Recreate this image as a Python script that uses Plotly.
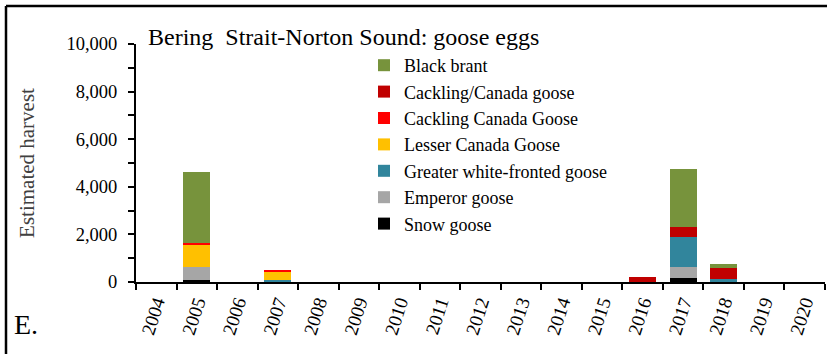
import plotly.graph_objects as go

years = [str(y) for y in range(2004, 2021)]

snow_goose =        [0,   80, 0,   0, 0, 0, 0, 0, 0, 0, 0, 0,   0,  150,   0, 0, 0]
emperor_goose =     [0,  550, 0,  20, 0, 0, 0, 0, 0, 0, 0, 0,   0,  490,   0, 0, 0]
gw_fronted_goose =  [0,    0, 0,  80, 0, 0, 0, 0, 0, 0, 0, 0,   0, 1260, 140, 0, 0]
lesser_canada =     [0,  950, 0, 340, 0, 0, 0, 0, 0, 0, 0, 0,   0,    0,   0, 0, 0]
cackling_canada =   [0,   50, 0,  50, 0, 0, 0, 0, 0, 0, 0, 0,   0,    0,   0, 0, 0]
cackling_slash =    [0,    0, 0,   0, 0, 0, 0, 0, 0, 0, 0, 0, 230,  420, 460, 0, 0]
black_brant =       [0, 2990, 0,   0, 0, 0, 0, 0, 0, 0, 0, 0,   0, 2410, 150, 0, 0]

series = [
    ("Snow goose", snow_goose, "#000000"),
    ("Emperor goose", emperor_goose, "#A6A6A6"),
    ("Greater white-fronted goose", gw_fronted_goose, "#31859C"),
    ("Lesser Canada Goose", lesser_canada, "#FFC000"),
    ("Cackling Canada Goose", cackling_canada, "#FF0000"),
    ("Cackling/Canada goose", cackling_slash, "#C00000"),
    ("Black brant", black_brant, "#77933C"),
]

SERIF = "Liberation Serif, Times New Roman, serif"

fig = go.Figure()
for name, vals, color in series:
    fig.add_trace(go.Bar(x=years, y=vals, name=name, marker=dict(color=color, line=dict(width=0))))

L, R, T, B = 136, 2, 44, 72
W, H = 827, 354
pw = W - L - R
ph = H - T - B

def px(x):
    return (x - L) / pw

def py(y):
    return (H - B - y) / ph

border = dict(color="black", width=2.5)

fig.update_layout(
    width=W, height=H,
    margin=dict(l=L, r=R, t=T, b=B, autoexpand=False),
    barmode="stack", bargap=0.34,
    plot_bgcolor="white", paper_bgcolor="white",
    font=dict(family=SERIF, color="#000000"),
    showlegend=True,
    legend=dict(
        x=px(364), y=py(47), xanchor="left", yanchor="top",
        traceorder="reversed", font=dict(size=18, family=SERIF),
        bgcolor="rgba(0,0,0,0)", itemwidth=30,
    ),
    xaxis=dict(
        type="category", categoryorder="array", categoryarray=years,
        showline=True, linecolor="black", linewidth=2,
        ticks="outside", tickson="boundaries", ticklen=6, tickwidth=2, tickcolor="black",
        tickangle=-72, tickfont=dict(size=19, family=SERIF),
        showgrid=False, zeroline=False, automargin=False,
    ),
    yaxis=dict(
        range=[0, 10000], dtick=2000, tickformat=",",
        showline=True, linecolor="black", linewidth=2,
        ticks="outside", ticklen=6, tickwidth=2, tickcolor="black",
        minor=dict(dtick=1000, ticks="outside", ticklen=6, tickwidth=2, tickcolor="black", showgrid=False),
        tickfont=dict(size=18.5, family=SERIF), ticklabelstandoff=7,
        showgrid=False, zeroline=False, automargin=False,
        title=dict(text="Estimated harvest", font=dict(size=21, family=SERIF, color="#404040"), standoff=26),
    ),
    title=dict(
        text="Bering\u00a0 Strait-Norton Sound: goose eggs",
        x=148 / W, xanchor="left", y=1 - 37 / H, yanchor="middle",
        font=dict(size=24, family=SERIF, color="black"),
    ),
    annotations=[
        dict(text="E.", x=px(12), y=py(324), xref="paper", yref="paper",
             xanchor="left", yanchor="middle", showarrow=False,
             font=dict(size=28, family=SERIF, color="black")),
    ],
    shapes=[
        dict(type="line", xref="paper", yref="paper",
             x0=px(6), x1=px(827), y0=py(6), y1=py(6), line=border, layer="above"),
        dict(type="line", xref="paper", yref="paper",
             x0=px(6), x1=px(6), y0=py(6), y1=py(354), line=border, layer="above"),
    ],
)

fig.write_html(
    "out.html", config={"displayModeBar": False},
    post_script=("document.body.style.margin='0';"
                 "document.body.style.overflow='hidden';"
                 "document.documentElement.style.overflow='hidden';"),
)
